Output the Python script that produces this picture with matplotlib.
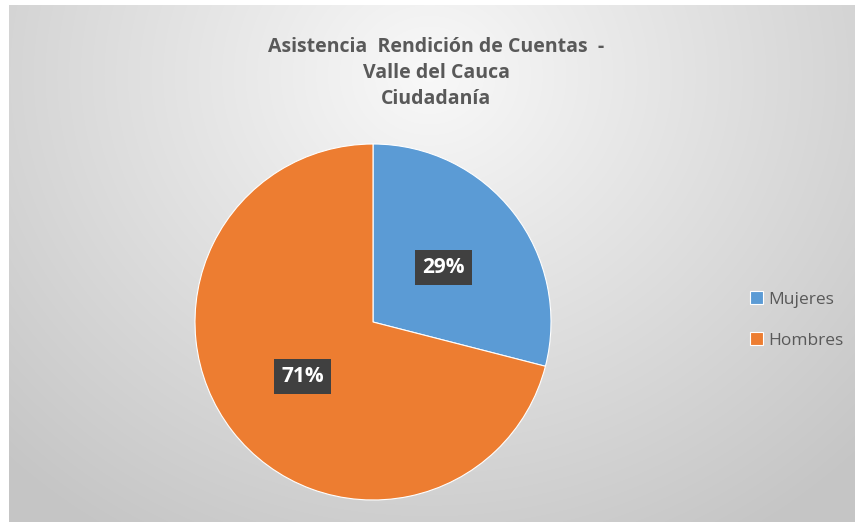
import numpy as np
import matplotlib.pyplot as plt

categorias = ['Mujeres', 'Hombres']
valores = [29, 71]
colores = ['#5B9BD5', '#ED7D31']
titulo = 'Asistencia  Rendición de Cuentas  -\nValle del Cauca\nCiudadanía'

fig = plt.figure(figsize=(8.57, 5.26), dpi=100)
fig.patch.set_facecolor('white')

# fondo con degradado radial
bg = fig.add_axes([9 / 857, 4 / 526, 846 / 857, 517 / 526])
yy, xx = np.mgrid[0:517, 0:846]
d = np.sqrt(((xx - 420) / 600.0) ** 2 + ((yy - 70) / 540.0) ** 2)
d = np.clip(d, 0, 1)
gris = 0.975 - 0.2 * d
bg.imshow(np.dstack([gris, gris, gris]), aspect='auto', extent=[0, 1, 0, 1], origin='upper')
bg.set_axis_off()

fig.text(436 / 857, 1 - 73 / 526, titulo, ha='center', va='center', fontsize=14,
         fontweight='bold', color='#595959', family='Open Sans', linespacing=1.4)

ax = fig.add_axes([195 / 857, 26 / 526, 356 / 857, 356 / 526])
wedges, textos = ax.pie(valores, colors=colores, startangle=90, counterclock=False,
                        labels=[f'{v}%' for v in valores], labeldistance=0.5,
                        wedgeprops=dict(linewidth=0.8, edgecolor='white'))
for t in textos:
    t.set_color('white')
    t.set_fontsize(15)
    t.set_fontweight('bold')
    t.set_family('Open Sans')
    t.set_ha('center')
    t.set_va('center')
    t.set_bbox(dict(boxstyle='square,pad=0.35', facecolor='#404040', edgecolor='none'))
ax.set_xlim(-1, 1)
ax.set_ylim(-1, 1)
ax.set_aspect('equal')

leg = fig.legend(wedges, categorias, loc='center left', bbox_to_anchor=(734 / 857, 1 - 320 / 526),
                 frameon=False, handlelength=0.75, handleheight=0.75,
                 handletextpad=0.35, labelspacing=1.4, prop={'family': 'Open Sans', 'size': 12.5})
for t in leg.get_texts():
    t.set_color('#595959')

fig.savefig('out.png', dpi=100)
